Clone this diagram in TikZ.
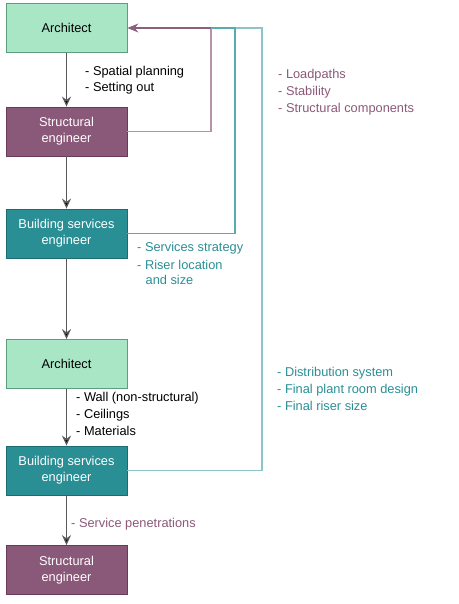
\documentclass[tikz,border=0pt]{standalone}
\usepackage{fontspec}
\setmainfont{Liberation Sans}
\usepackage{tikz}
\usetikzlibrary{arrows.meta}
\definecolor{archfill}{HTML}{A9E6C6}
\definecolor{archdraw}{HTML}{5E9E7C}
\definecolor{strfill}{HTML}{8A5878}
\definecolor{strdraw}{HTML}{6B3A5B}
\definecolor{bsefill}{HTML}{2A8E95}
\definecolor{bsedraw}{HTML}{1D6C72}
\definecolor{strtext}{HTML}{8A5878}
\definecolor{bsetext}{HTML}{2A8E95}
\definecolor{strline}{HTML}{B892AA}
\definecolor{bseline}{HTML}{5AABB0}
\definecolor{bselinelight}{HTML}{8CC4CA}

\begin{document}
\begin{tikzpicture}[x=1pt,y=-1pt,
    every node/.style={font=\fontsize{12.8}{16}\selectfont},
    box/.style={draw,thick,minimum width=121pt,minimum height=49pt,align=center,inner sep=2pt},
    archbox/.style={box,fill=archfill,draw=archdraw,text=black},
    strbox/.style={box,fill=strfill,draw=strdraw,text=white},
    bsebox/.style={box,fill=bsefill,draw=bsedraw,text=white},
    flow/.style={draw=black!65,line width=1.2pt,-{Stealth[length=10pt,width=9pt,fill=black]}},
    note/.style={anchor=west,inner sep=0pt}]
      \useasboundingbox (0,0) rectangle (458,604);

      \node [archbox] (arch1) at (66.5,28) {Architect};
      \node [strbox] (str1) at (66.5,131.5) {Structural\\engineer};
      \node [bsebox] (bse1) at (66.5,233.5) {Building services\\engineer};
      \node [archbox] (arch2) at (66.5,364) {Architect};
      \node [bsebox] (bse2) at (66.5,470.5) {Building services\\engineer};
      \node [strbox] (str2) at (66.5,570) {Structural\\engineer};

      \draw [flow] (arch1) -- (str1);
      \draw [flow] (str1) -- (bse1);
      \draw [flow] (bse1) -- (arch2);
      \draw [flow] (arch2) -- (bse2);
      \draw [flow] (bse2) -- (str2);

      % feedback to the first architect
      \coordinate (fb1) at (211,28);
      \coordinate (fb2) at (235,28);
      \coordinate (fb3) at (262,28);
      \draw [bselinelight,line width=1.2pt] (bse2.east) -| (fb3) -- (fb2);
      \draw [bseline,line width=1.2pt] (bse1.east) -| (fb2) -- (fb1);
      \draw [strline,line width=1.2pt] (str1.east) -| (fb1);
      \draw [strdraw!80,line width=1.2pt,-{Stealth[length=11pt,width=9pt]}] (fb1) -- (arch1.east);

      \node [note] (n1) at (85,72) {- Spatial planning};
      \node [note] (n2) at (85,88) {- Setting out};

      \node [note,text=strtext] (n3) at (278,75) {- Loadpaths};
      \node [note,text=strtext] (n4) at (278,92) {- Stability};
      \node [note,text=strtext] (n5) at (278,109) {- Structural components};

      \node [note,text=bsetext] (n6) at (137,248) {- Services strategy};
      \node [note,text=bsetext] (n7) at (137,265) {- Riser location};
      \node [note,text=bsetext] (n8) at (145.5,280) {and size};

      \node [note] (n9) at (76,398) {- Wall (non-structural)};
      \node [note] (n10) at (76,415) {- Ceilings};
      \node [note] (n11) at (76,431) {- Materials};

      \node [note,text=bsetext] (n12) at (277,373) {- Distribution system};
      \node [note,text=bsetext] (n13) at (277,390) {- Final plant room design};
      \node [note,text=bsetext] (n14) at (277,406) {- Final riser size};

      \node [note,text=strtext] (n15) at (71,524) {- Service penetrations};
    \end{tikzpicture}
\end{document}
